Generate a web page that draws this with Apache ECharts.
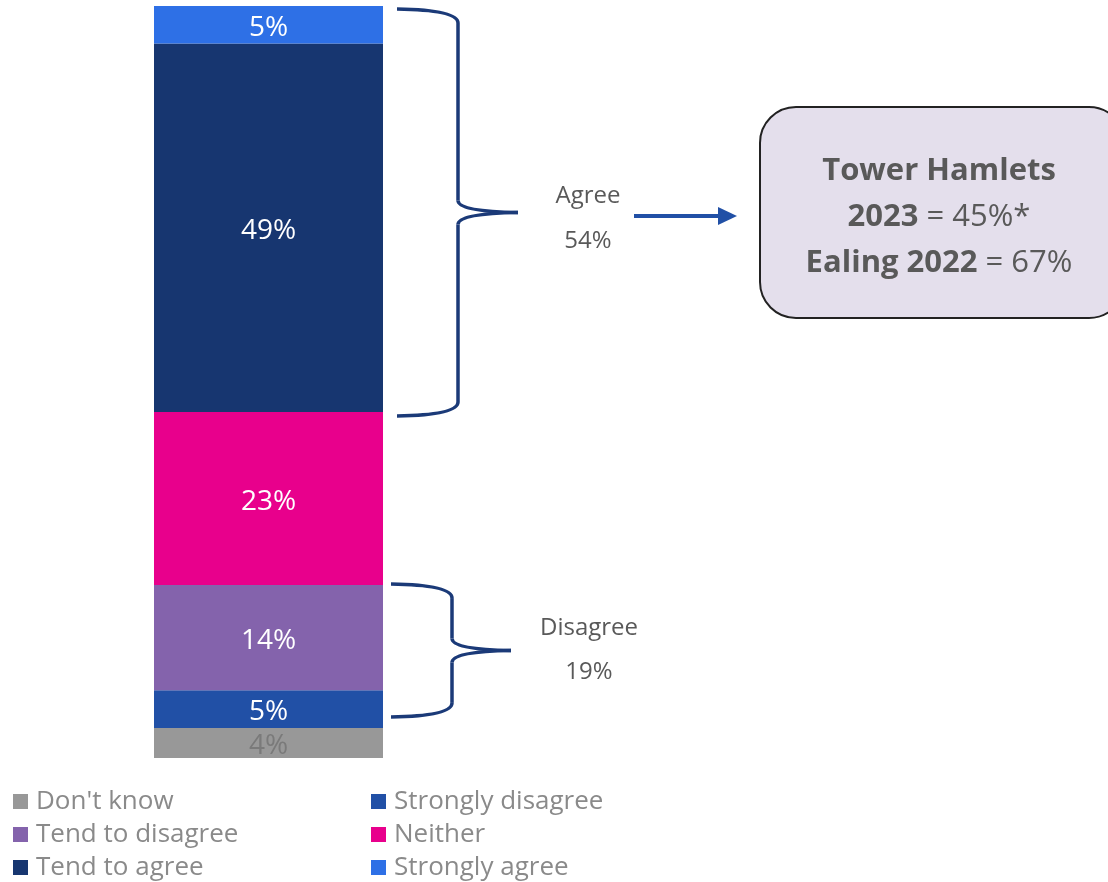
<!DOCTYPE html>
<html>
<head>
<meta charset="utf-8">
<style>
  html, body { margin: 0; padding: 0; background: #ffffff; }
  #chart { width: 1108px; height: 882px; }
</style>
<script src="https://cdn.jsdelivr.net/npm/echarts@6/dist/echarts.min.js"></script>
</head>
<body>
<div id="chart"></div>
<script>
// Response shares (%), stacked from the bottom of the bar upwards
const categories = ['All'];
const seriesNames = ["Don't know", 'Strongly disagree', 'Tend to disagree', 'Neither', 'Tend to agree', 'Strongly agree'];
const seriesValues = [4, 5, 14, 23, 49, 5];
const seriesColors = ['#989898', '#2150A6', '#8463AC', '#E8008C', '#173670', '#2E70E6'];
const labelColors = ['#7a7a7a', '#ffffff', '#ffffff', '#ffffff', '#ffffff', '#ffffff'];

// Net groupings shown beside the bar
const agreeNet = 54;
const disagreeNet = 19;
const comparisonLines = [
  { bold: 'Tower Hamlets', rest: '' },
  { bold: '2023', rest: ' = 45%*' },
  { bold: 'Ealing 2022', rest: ' = 67%' }
];

const FONT = '"Open Sans", "Noto Sans", sans-serif';
const chart = echarts.init(document.getElementById('chart'));

const series = seriesNames.map((name, i) => ({
  name: name,
  type: 'bar',
  stack: 'total',
  barWidth: '100%',
  data: [seriesValues[i]],
  itemStyle: { color: seriesColors[i] },
  label: {
    show: true,
    position: 'inside',
    offset: [0, 3],
    formatter: '{c}%',
    color: labelColors[i],
    fontSize: 28,
    fontFamily: FONT
  }
}));

const legendBase = {
  orient: 'vertical',
  height: 110,
  itemWidth: 15,
  itemHeight: 15,
  itemGap: 0,
  icon: 'rect',
  textStyle: { color: '#8a8a8a', fontSize: 26, fontFamily: FONT, padding: [0, 0, 0, 3], lineHeight: 33 },
  selectedMode: false
};

chart.setOption({
  animation: false,
  grid: { left: 154, right: 725, top: 6, bottom: 124 },
  xAxis: { type: 'category', data: categories, show: false },
  yAxis: { type: 'value', min: 0, max: 100, show: false },
  legend: [
    Object.assign({}, legendBase, { left: 8, top: 780, data: [seriesNames[0], seriesNames[2], seriesNames[4]] }),
    Object.assign({}, legendBase, { left: 366, top: 780, data: [seriesNames[1], seriesNames[3], seriesNames[5]] })
  ],
  series: series
});

// Curly brace beside a stacked range, built from curves and straight runs, point aimed right
function brace(xEnd, xMid, xTip, yTop, yBot) {
  const yc = (yTop + yBot) / 2;
  const st = { stroke: '#1B3A78', lineWidth: 3.5, fill: null };
  return [
    { type: 'bezierCurve', shape: { x1: xEnd, y1: yTop, cpx1: xMid, cpy1: yTop + 1, x2: xMid, y2: yTop + 14 }, style: st },
    { type: 'line', shape: { x1: xMid, y1: yTop + 14, x2: xMid, y2: yc - 12 }, style: st },
    { type: 'bezierCurve', shape: { x1: xMid, y1: yc - 12, cpx1: xMid, cpy1: yc - 1, x2: xTip, y2: yc }, style: st },
    { type: 'bezierCurve', shape: { x1: xTip, y1: yc, cpx1: xMid, cpy1: yc + 1, x2: xMid, y2: yc + 12 }, style: st },
    { type: 'line', shape: { x1: xMid, y1: yc + 12, x2: xMid, y2: yBot - 14 }, style: st },
    { type: 'bezierCurve', shape: { x1: xMid, y1: yBot - 14, cpx1: xMid, cpy1: yBot - 1, x2: xEnd, y2: yBot }, style: st }
  ];
}

const cum = seriesValues.reduce((acc, v) => { acc.push(acc[acc.length - 1] + v); return acc; }, [0]);
const yOf = v => chart.convertToPixel({ yAxisIndex: 0 }, v);

const agreeTop = yOf(cum[6]) + 3;
const agreeBot = yOf(cum[4]) + 4;
const disTop = yOf(cum[3]) - 1;
const disBot = yOf(cum[1]) - 11;

const netText = { fill: '#595959', fontSize: 24, fontFamily: FONT, textAlign: 'center', textVerticalAlign: 'middle' };

const rich = {
  b: { fontSize: 31, fontWeight: 'bold', fontFamily: FONT, fill: '#595959', lineHeight: 46 },
  n: { fontSize: 31, fontFamily: FONT, fill: '#595959', lineHeight: 46 }
};
const boxText = comparisonLines.map(l => '{b|' + l.bold + '}' + (l.rest ? '{n|' + l.rest + '}' : '')).join('\n');

chart.setOption({
  graphic: [].concat(
    brace(397, 458, 518, agreeTop, agreeBot),
    brace(391, 452, 511, disTop, disBot),
    [
      { type: 'text', x: 588, y: 196, style: Object.assign({ text: 'Agree' }, netText) },
      { type: 'text', x: 588, y: 241, style: Object.assign({ text: agreeNet + '%' }, netText) },
      { type: 'text', x: 589, y: 628, style: Object.assign({ text: 'Disagree' }, netText) },
      { type: 'text', x: 589, y: 672, style: Object.assign({ text: disagreeNet + '%' }, netText) },
      { type: 'line', shape: { x1: 634, y1: 216, x2: 722, y2: 216 }, style: { stroke: '#2150A6', lineWidth: 4 } },
      { type: 'polygon', shape: { points: [[718, 207], [737, 216], [718, 225]] }, style: { fill: '#2150A6' } },
      { type: 'rect', shape: { x: 760, y: 107, width: 365, height: 211, r: 36 }, style: { fill: '#E4DFEC', stroke: '#222222', lineWidth: 2 } },
      { type: 'text', x: 939, y: 217, style: { text: boxText, rich: rich, textAlign: 'center', textVerticalAlign: 'middle' } }
    ]
  )
});
</script>
</body>
</html>
